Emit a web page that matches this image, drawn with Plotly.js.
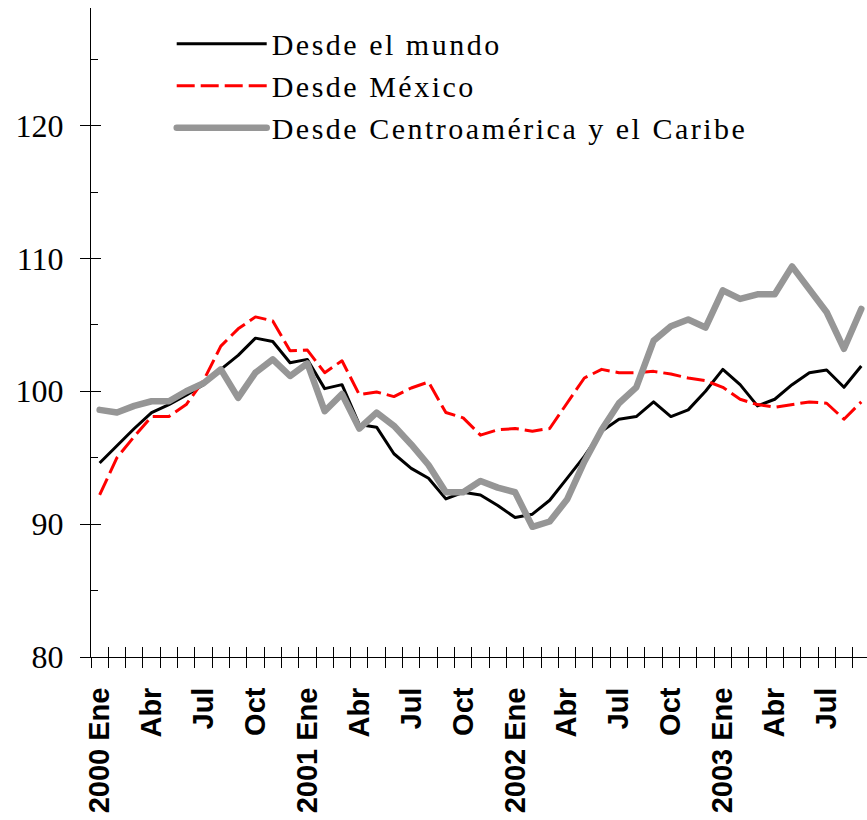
<!DOCTYPE html>
<html>
<head>
<meta charset="utf-8">
<script src="https://cdn.plot.ly/plotly-3.0.1.min.js"></script>
<style>
  html, body { margin: 0; padding: 0; background: #fff; }
  #chart { width: 867px; height: 820px; }
  .legendtext { letter-spacing: 2.5px; }
  .js-line { stroke-linejoin: round; }
  .scatterlayer .trace:nth-child(3) .js-line { stroke-linecap: round; }
  .legend .traces:nth-child(3) .js-line { stroke-linecap: round; }
</style>
</head>
<body>
<div id="chart"></div>
<script>
// ---- data ----
const monthNames = ["Ene","Feb","Mar","Abr","May","Jun","Jul","Ago","Sep","Oct","Nov","Dic"];
const years = [2000, 2001, 2002, 2003];
const months = [];
years.forEach(y => monthNames.forEach(m => months.push(m + " " + y)));
months.length = 45; // Ene 2000 .. Sep 2003

const tickLabels = ["2000 Ene","Abr","Jul","Oct","2001 Ene","Abr","Jul","Oct","2002 Ene","Abr","Jul","Oct","2003 Ene","Abr","Jul"];

const seriesNames = ["Desde el mundo", "Desde México", "Desde Centroamérica y el Caribe"];

const mundo = [94.6, 95.9, 97.2, 98.4, 99.0, 99.7, 100.5, 101.65, 102.7, 104.0, 103.75, 102.15,
  102.4, 100.2, 100.5, 97.5, 97.3, 95.3, 94.2, 93.45, 91.9, 92.4, 92.2, 91.4,
  90.5, 90.75, 91.8, 93.45, 95.1, 97.0, 97.9, 98.1, 99.2, 98.1, 98.6, 100.0,
  101.65, 100.5, 98.9, 99.4, 100.5, 101.4, 101.6, 100.3, 101.9];

const mexico = [92.2, 95.0, 96.6, 98.1, 98.1, 99.0, 100.8, 103.4, 104.7, 105.6, 105.3, 103.05,
  103.1, 101.4, 102.3, 99.75, 99.95, 99.6, 100.25, 100.7, 98.4, 98.0, 96.7, 97.1,
  97.2, 97.0, 97.2, 99.1, 101.0, 101.65, 101.4, 101.4, 101.5, 101.3, 101.0, 100.8,
  100.3, 99.4, 99.0, 98.8, 99.0, 99.2, 99.1, 97.9, 99.2];

const centro = [98.6, 98.4, 98.9, 99.25, 99.25, 100.0, 100.6, 101.65, 99.5, 101.4, 102.4, 101.15,
  102.1, 98.5, 99.8, 97.2, 98.4, 97.4, 96.0, 94.45, 92.4, 92.4, 93.25, 92.75,
  92.4, 89.8, 90.2, 91.85, 94.7, 97.1, 99.1, 100.3, 103.8, 104.9, 105.4, 104.8,
  107.6, 106.95, 107.3, 107.3, 109.4, 107.7, 105.95, 103.2, 106.2];

const yMajor = [80, 90, 100, 110, 120];
const yMinor = [85, 95, 105, 115, 125];

// ---- derived positions ----
const xIdx = months.map((_, i) => i);
const labelPos = tickLabels.map((_, i) => i * 3);
const boundaryPos = months.map((_, i) => i - 0.5).concat([months.length - 0.5]);
const xRange = [-0.5, 44.33];
const yRange = [80, 128.85];

const traces = [
  { x: xIdx, y: mundo, name: seriesNames[0], type: "scatter", mode: "lines",
    line: { color: "#000000", width: 3 } },
  { x: xIdx, y: mexico, name: seriesNames[1], type: "scatter", mode: "lines",
    line: { color: "#ff0000", width: 3, dash: "18px,6px" } },
  { x: xIdx, y: centro, name: seriesNames[2], type: "scatter", mode: "lines",
    line: { color: "#969696", width: 6.5 } }
];
// helper (empty) traces so the overlay tick axes get drawn
[["x2","y"],["x3","y"],["x","y2"],["x","y3"]].forEach(([xa, ya]) => {
  traces.push({ x: [null], y: [null], xaxis: xa, yaxis: ya, type: "scatter", mode: "lines",
    showlegend: false, hoverinfo: "skip" });
});

const axBase = { showgrid: false, zeroline: false, fixedrange: true };

const layout = {
  width: 867, height: 820,
  margin: { l: 91, r: 0, t: 8, b: 163, pad: 0 },
  paper_bgcolor: "#ffffff", plot_bgcolor: "#ffffff",
  showlegend: true,
  legend: {
    x: 0.104, y: 0.985, xanchor: "left", yanchor: "top",
    bgcolor: "rgba(0,0,0,0)", borderwidth: 0,
    font: { family: "Liberation Serif, Times New Roman, serif", size: 30, color: "#000" },
    itemwidth: 90, traceorder: "normal"
  },
  xaxis: Object.assign({}, axBase, {
    range: xRange, tickmode: "array", tickvals: labelPos, ticktext: tickLabels,
    ticks: "", tickangle: -90, showline: true, linecolor: "#000", linewidth: 1,
    tickfont: { family: "Liberation Sans, Arial, sans-serif", size: 29, color: "#000", weight: "bold" },
    ticklabelstandoff: 18
  }),
  xaxis2: Object.assign({}, axBase, {
    overlaying: "x", anchor: "y", side: "bottom", range: xRange, tickmode: "array", tickvals: boundaryPos,
    ticks: "outside", ticklen: 10, tickcolor: "#000", tickwidth: 1, showticklabels: false, showline: false
  }),
  xaxis3: Object.assign({}, axBase, {
    overlaying: "x", anchor: "y", side: "bottom", range: xRange, tickmode: "array", tickvals: boundaryPos,
    ticks: "inside", ticklen: 10, tickcolor: "#000", tickwidth: 1, showticklabels: false, showline: false
  }),
  yaxis: Object.assign({}, axBase, {
    range: yRange, tickmode: "array", tickvals: yMajor, ticktext: yMajor.map(String),
    ticks: "outside", ticklen: 10, tickcolor: "#000", showline: true, linecolor: "#000", linewidth: 1,
    tickfont: { family: "Liberation Serif, Times New Roman, serif", size: 32, color: "#000" },
    ticklabelstandoff: 10
  }),
  yaxis2: Object.assign({}, axBase, {
    overlaying: "y", anchor: "x", side: "left", range: yRange, tickmode: "array", tickvals: yMajor,
    ticks: "inside", ticklen: 10, tickcolor: "#000", showticklabels: false, showline: false
  }),
  yaxis3: Object.assign({}, axBase, {
    overlaying: "y", anchor: "x", side: "left", range: yRange, tickmode: "array", tickvals: yMinor,
    ticks: "inside", ticklen: 7, tickcolor: "#000", showticklabels: false, showline: false
  })
};

Plotly.newPlot("chart", traces, layout, { staticPlot: true, displayModeBar: false });
</script>
</body>
</html>
